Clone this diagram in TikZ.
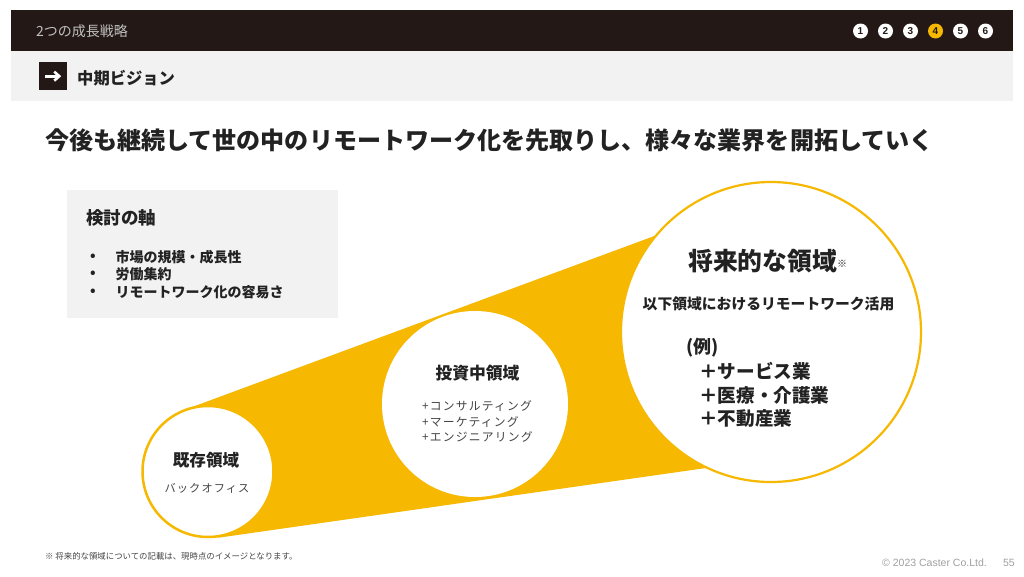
\documentclass[tikz,border=0pt]{standalone}
\usepackage{fontspec}
\usetikzlibrary{arrows.meta}
\setmainfont{Noto Sans CJK JP}
\newfontfamily\latinfont{Liberation Sans}
\newfontfamily\spacedfont[LetterSpace=10]{Noto Sans CJK JP}
\newcommand\fsz[1]{\fontsize{#1}{#1}\selectfont}
\definecolor{headbg}{HTML}{231815}
\definecolor{panel}{HTML}{F2F2F2}
\definecolor{accent}{HTML}{F6B800}
\definecolor{ink}{HTML}{222222}
\definecolor{soft}{HTML}{444444}
\definecolor{faint}{HTML}{A0A0A0}
\begin{document}
\begin{tikzpicture}[x=1pt,y=-1pt,
  txt/.style={inner sep=0pt, text=ink},
  numdot/.style={circle, fill=white, minimum size=15pt, inner sep=0pt, text=headbg, font=\latinfont\bfseries\fsz{10}},
  ring/.style={circle, fill=white, draw=accent, line width=2.5pt, inner sep=0pt},
  bul/.style={txt, anchor=west, font=\bfseries\fsz{14}}]
\useasboundingbox (0,0) rectangle (1024,576);
\fill[white] (0,0) rectangle (1024,576);
% header
\node[fill=headbg, minimum width=1002pt, minimum height=41pt, anchor=north west, inner sep=0pt] (head) at (11,10) {};
\node[txt, anchor=west, text=white!75!black, font=\fsz{14}] (headt) at (36,31) {2つの成長戦略};
\foreach \n/\x in {1/860.5,2/885.5,3/910.5,5/960.5,6/985.5}{
  \node[numdot] (n\n) at (\x,31) {\n};
}
\node[numdot, fill=accent] (n4) at (935.5,31) {4};
% sub header
\node[fill=panel, minimum width=1002pt, minimum height=50pt, anchor=north west, inner sep=0pt] (sub) at (11,51) {};
\node[fill=headbg, minimum size=28pt, inner sep=0pt, anchor=north west] (icon) at (39,62) {};
\draw[white, line width=2.6pt, -{Straight Barb[length=5pt,width=9pt,line width=2.6pt]}] ([xshift=-8pt]icon.center) -- ([xshift=8pt]icon.center);
\node[txt, anchor=west, font=\bfseries\fsz{16.3}] (subt) at (77,78) {中期ビジョン};
% title
\node[txt, anchor=west, font=\bfseries\fsz{24.05}] (title) at (45,140) {今後も継続して世の中のリモートワーク化を先取りし、様々な業界を開拓していく};
% axis box
\node[fill=panel, minimum width=271pt, minimum height=128pt, anchor=north west, inner sep=0pt] (axisbox) at (67,190) {};
\node[txt, anchor=west, font=\bfseries\fsz{17.5}] (axist) at (86,218) {検討の軸};
\foreach \t/\y [count=\i] in {市場の規模・成長性/257,労働集約/274.5,リモートワーク化の容易さ/292}{
  \node[bul] (bd\i) at (90,\y) {•};
  \node[bul] (b\i) at (115.5,\y) {\t};
}
% funnel
\fill[accent] (185.4,409.5) -- (700,219.1) -- (720,466) -- (218.4,537.7) -- (208,471.5) -- cycle;
% circles
\node[ring, minimum size=131pt] (c1) at (208,471.5) {};
\node[ring, draw=none, minimum size=186pt] (c2) at (475,404) {};
\node[ring, line width=2.2pt, minimum size=300pt] (c3) at (771,332) {};
% circle 1 text
\node[txt, font=\bfseries\fsz{16.6}] (c1t) at (206,460.5) {既存領域};
\node[txt, text=soft, font=\spacedfont\fsz{11.2}] (c1s) at (207,488.5) {バックオフィス};
% circle 2 text
\node[txt, font=\bfseries\fsz{16.8}] (c2t) at (477.5,373.5) {投資中領域};
\node[txt, anchor=west, text=soft, font=\spacedfont\fsz{11.8}] (c2a) at (422,406) {+コンサルティング};
\node[txt, anchor=west, text=soft, font=\spacedfont\fsz{11.8}] (c2b) at (422,421.5) {+マーケティング};
\node[txt, anchor=west, text=soft, font=\spacedfont\fsz{11.8}] (c2c) at (422,437) {+エンジニアリング};
% circle 3 text
\node[txt, anchor=west, font=\bfseries\fsz{24.8}] (c3t) at (688,261) {将来的な領域\raisebox{3pt}{\fsz{10}※}};
\node[txt, anchor=west, font=\bfseries\fsz{14.8}] (c3s) at (642.5,304) {以下領域におけるリモートワーク活用};
\node[txt, anchor=west, font=\bfseries\fsz{18}] (c3e) at (686,348) {(例)};
\node[txt, anchor=west, font=\bfseries\fsz{18.6}] (c3a) at (699,371.5) {＋サービス業};
\node[txt, anchor=west, font=\bfseries\fsz{18.6}] (c3b) at (699,395.5) {＋医療・介護業};
\node[txt, anchor=west, font=\bfseries\fsz{18.6}] (c3c) at (699,418.5) {＋不動産業};
% footer
\node[txt, anchor=west, text=soft, font=\fsz{8.4}] (note) at (45,556) {※ 将来的な領域についての記載は、現時点のイメージとなります。};
\node[txt, anchor=east, text=faint, font=\latinfont\fsz{10.5}] (page) at (1015,563) {55};
\node[txt, anchor=east, text=faint, font=\latinfont\fsz{10.5}] (copy) at (987,563) {© 2023 Caster Co.Ltd.};
\end{tikzpicture}
\end{document}
